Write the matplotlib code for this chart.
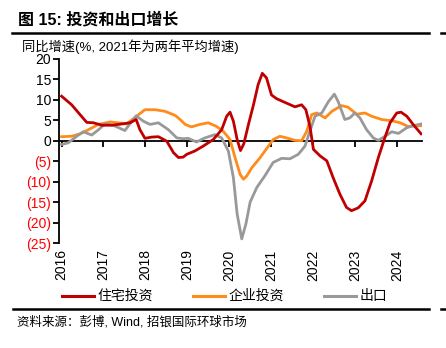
import matplotlib.pyplot as plt
from matplotlib.lines import Line2D

plt.rcParams['font.family'] = ['Liberation Sans', 'Noto Sans CJK SC']

# 住宅投资 (residential investment), decimal year vs yoy %
res_x = [2016.00, 2016.24, 2016.44, 2016.60, 2016.76, 2016.96, 2017.20, 2017.43,
         2017.63, 2017.78, 2017.87, 2017.99, 2018.15, 2018.31, 2018.51, 2018.67,
         2018.79, 2018.90, 2018.99, 2019.18, 2019.38, 2019.62, 2019.82, 2019.94,
         2020.02, 2020.10, 2020.19, 2020.27, 2020.35, 2020.46, 2020.58, 2020.69,
         2020.79, 2020.89, 2021.01, 2021.13, 2021.37, 2021.57, 2021.73, 2021.83,
         2021.93, 2022.01, 2022.17, 2022.33, 2022.48, 2022.64, 2022.80, 2022.92,
         2023.08, 2023.24, 2023.40, 2023.56, 2023.70, 2023.84, 2024.00, 2024.10,
         2024.24, 2024.39, 2024.58]
res_y = [10.9, 8.8, 6.4, 4.5, 4.4, 3.8, 3.8, 4.1,
         4.4, 5.2, 2.7, 0.6, 0.9, 1.0, -0.1, -2.9,
         -4.1, -4.0, -3.3, -2.5, -1.3, 0.3, 2.7, 6.0,
         7.0, 4.8, 0.3, -2.4, -0.7, 4.0, 8.8, 13.7,
         16.5, 15.4, 11.2, 10.3, 9.2, 8.3, 8.8, 7.6,
         3.4, -2.1, -3.7, -4.9, -9.0, -13.0, -16.3, -17.1,
         -16.4, -14.7, -9.8, -4.1, 0.3, 4.4, 6.8, 7.0,
         6.0, 4.0, 1.7]

# 企业投资 (business investment)
biz_x = [2016.00, 2016.24, 2016.44, 2016.64, 2016.88, 2017.16, 2017.35, 2017.55,
         2017.75, 2017.99, 2018.23, 2018.47, 2018.71, 2018.83, 2018.95, 2019.10,
         2019.30, 2019.50, 2019.70, 2019.86, 2020.02, 2020.14, 2020.26, 2020.34,
         2020.42, 2020.54, 2020.74, 2020.91, 2021.05, 2021.21, 2021.37, 2021.57,
         2021.73, 2021.85, 2021.97, 2022.09, 2022.29, 2022.45, 2022.68, 2022.84,
         2023.04, 2023.24, 2023.40, 2023.64, 2023.88, 2024.08, 2024.27, 2024.58]
biz_y = [1.0, 1.1, 1.7, 2.7, 4.0, 4.6, 4.4, 4.1,
         5.7, 7.6, 7.6, 7.2, 6.2, 5.2, 4.0, 3.4,
         4.0, 4.4, 3.5, 2.3, 0.3, -4.1, -8.2, -9.4,
         -8.6, -6.6, -4.1, -1.7, 0.3, 1.1, 0.7, 0.1,
         0.0, 2.3, 6.4, 6.8, 5.6, 7.2, 8.6, 8.2,
         6.5, 6.8, 6.0, 5.2, 4.9, 4.4, 3.5, 3.7]

# 出口 (exports)
exp_x = [2016.00, 2016.16, 2016.36, 2016.52, 2016.72, 2016.88, 2017.04, 2017.23,
         2017.51, 2017.78, 2017.95, 2018.11, 2018.31, 2018.55, 2018.75, 2018.90,
         2019.02, 2019.22, 2019.42, 2019.66, 2019.82, 2019.98, 2020.10, 2020.19,
         2020.30, 2020.40, 2020.50, 2020.66, 2020.85, 2021.05, 2021.25, 2021.45,
         2021.65, 2021.81, 2021.93, 2022.05, 2022.21, 2022.37, 2022.51, 2022.60,
         2022.76, 2022.88, 2023.00, 2023.12, 2023.28, 2023.44, 2023.56, 2023.72,
         2023.88, 2024.04, 2024.24, 2024.39, 2024.58]
exp_y = [-0.9, -0.5, 1.1, 2.2, 1.4, 2.7, 4.2, 3.8,
         2.5, 6.1, 4.8, 4.0, 4.4, 2.7, 0.7, 0.5,
         0.6, -0.3, 0.7, 1.5, 0.7, -2.5, -9.0, -17.9,
         -24.0, -20.3, -15.0, -11.4, -8.6, -5.3, -4.3, -4.4,
         -3.3, -1.3, 2.5, 6.0, 6.8, 9.6, 11.4, 9.6,
         5.2, 5.6, 6.8, 5.6, 2.7, 0.7, 0.1, 1.1,
         2.2, 1.8, 3.2, 3.7, 4.1]

years = [2016, 2017, 2018, 2019, 2020, 2021, 2022, 2023, 2024]
yticks = [20, 15, 10, 5, 0, -5, -10, -15, -20, -25]

c_res = '#c00000'
c_biz = '#ff8c1a'
c_exp = '#999999'

fig = plt.figure(figsize=(4.46, 3.48), dpi=100)
ax = fig.add_axes([0.1334, 0.3017, 0.946 - 0.1334, 0.8305 - 0.3017])

ax.plot(biz_x, biz_y, color=c_biz, lw=2.0, solid_joinstyle='round', zorder=3)
ax.plot(exp_x, exp_y, color=c_exp, lw=2.0, solid_joinstyle='round', zorder=3)
ax.plot(res_x, res_y, color=c_res, lw=2.0, solid_joinstyle='round', zorder=4)

ax.set_xlim(2015.95, 2024.6)
ax.set_ylim(-25, 20)

for s in ['top', 'right']:
    ax.spines[s].set_visible(False)
ax.spines['left'].set_linewidth(1.3)
ax.spines['bottom'].set_position(('data', 0))
ax.spines['bottom'].set_linewidth(1.3)
ax.spines['bottom'].set_zorder(2)

ax.set_yticks(yticks)
ax.set_yticklabels([str(v) if v >= 0 else '(%d)' % -v for v in yticks])
for lbl, v in zip(ax.get_yticklabels(), yticks):
    lbl.set_color('red' if v < 0 else 'black')
ax.tick_params(axis='y', direction='out', length=4, width=1.3, labelsize=10, pad=2)

ax.set_xticks(years)
ax.tick_params(axis='x', direction='out', length=4, width=1.3, labelbottom=False)
for yr in years:
    ax.text(yr, -0.035, str(yr), transform=ax.get_xaxis_transform(),
            rotation=90, ha='center', va='top', fontsize=10)

# title and header rule
fig.text(18 / 446, 1 - 19.5 / 348, '图 15: 投资和出口增长', fontsize=11.5,
         fontweight='bold', ha='left', va='center')
fig.add_artist(Line2D([12 / 446, 429 / 446], [1 - 32.5 / 348] * 2, color='black', lw=1.8))
fig.add_artist(Line2D([441 / 446, 446 / 446], [1 - 32.5 / 348] * 2, color='black', lw=1.8))
fig.text(22 / 446, 1 - 46.5 / 348, '同比增速(%, 2021年为两年平均增速)', fontsize=9.5,
         ha='left', va='center')

# legend drawn by hand
leg_y = 1 - 295.7 / 348
for x0, col, name in [(62, c_res, '住宅投资'), (193, c_biz, '企业投资'), (324, c_exp, '出口')]:
    fig.add_artist(Line2D([x0 / 446, (x0 + 32) / 446], [leg_y, leg_y], color=col, lw=2.2))
    fig.text((x0 + 36) / 446, leg_y, name, fontsize=10, ha='left', va='center')

# footer rule and source
fig.add_artist(Line2D([13 / 446, 429 / 446], [1 - 309.3 / 348] * 2, color='black', lw=1.8))
fig.add_artist(Line2D([441 / 446, 446 / 446], [1 - 309.3 / 348] * 2, color='black', lw=1.8))
fig.text(17 / 446, 1 - 322 / 348, '资料来源：彭博, Wind, 招银国际环球市场', fontsize=9,
         ha='left', va='center')

fig.savefig('out.png', dpi=100)
